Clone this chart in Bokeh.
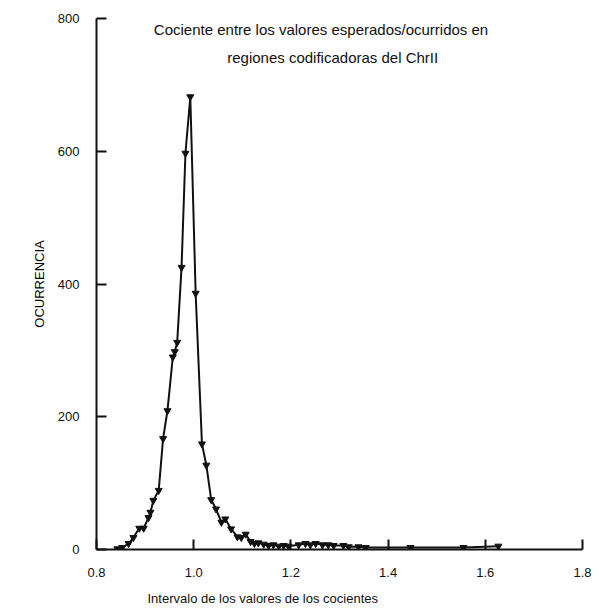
from bokeh.plotting import figure
from bokeh.models import Range1d, Label, FixedTicker, Title
from bokeh.embed import file_html
from bokeh.resources import INLINE

# Quotient interval (x) and occurrence (y)
cociente = [0.843, 0.853, 0.866, 0.876, 0.888, 0.897, 0.907, 0.911, 0.917, 0.928,
            0.937, 0.946, 0.957, 0.961, 0.966, 0.975, 0.983, 0.993,
            1.004, 1.017, 1.026, 1.036, 1.046, 1.057, 1.065, 1.077, 1.090, 1.098,
            1.107, 1.117, 1.125, 1.133, 1.144, 1.154, 1.164, 1.175, 1.185, 1.195,
            1.216, 1.230, 1.240, 1.251, 1.265, 1.277, 1.288, 1.308, 1.319, 1.339,
            1.354, 1.446, 1.555, 1.627]
ocurrencia = [1, 3, 9, 18, 32, 32, 48, 56, 74, 89,
              167, 209, 290, 298, 312, 425, 597, 682,
              386, 159, 127, 75, 61, 41, 46, 31, 19, 18,
              23, 12, 9, 10, 8, 6, 7, 5, 6, 5,
              7, 9, 7, 9, 7, 7, 6, 6, 4, 4,
              3, 3, 3, 5]

x_ticks = [0.8, 1.0, 1.2, 1.4, 1.6, 1.8]
y_ticks = [0, 200, 400, 600, 800]
titulo = ["Cociente entre los valores esperados/ocurridos en",
          "regiones codificadoras del ChrII"]
x_label = "Intervalo de los valores de los cocientes"
y_label = "OCURRENCIA"

FONT = "Liberation Sans"

p = figure(width=599, height=615, output_backend="svg", toolbar_location=None,
           x_range=Range1d(0.8, 1.8), y_range=Range1d(0, 800),
           min_border_left=96, min_border_right=17, min_border_top=18,
           min_border_bottom=66)
p.outline_line_color = None
p.xgrid.visible = False
p.ygrid.visible = False
p.background_fill_color = "white"
p.border_fill_color = "white"

for ax in (p.xaxis[0], p.yaxis[0]):
    ax.major_tick_in = 10
    ax.major_tick_out = 0
    ax.minor_tick_in = 0
    ax.minor_tick_out = 0
    ax.axis_line_width = 2
    ax.major_tick_line_width = 2
    ax.axis_line_color = "#111111"
    ax.major_tick_line_color = "#111111"
    ax.major_label_text_font = FONT
    ax.major_label_text_font_size = "13px"
    ax.major_label_text_color = "#111111"

p.xaxis.ticker = FixedTicker(ticks=x_ticks)
p.yaxis.ticker = FixedTicker(ticks=y_ticks)
p.xaxis.major_label_overrides = {t: f"{t:.1f}" for t in x_ticks}
p.xaxis.major_label_standoff = 18
p.yaxis.major_label_standoff = 17

p.yaxis.axis_label = y_label
p.yaxis.axis_label_text_font = FONT
p.yaxis.axis_label_text_font_size = "13px"
p.yaxis.axis_label_text_font_style = "normal"
p.yaxis.axis_label_text_color = "#000000"
p.yaxis.axis_label_standoff = 8

p.line(cociente, ocurrencia, line_color="#111111", line_width=2)
p.scatter(cociente, ocurrencia, marker="inverted_triangle", size=7,
          fill_color="#111111", line_color="#111111")

p.add_layout(Label(x=1.262, y=783, text=titulo[0], text_align="center",
                   text_baseline="middle", text_font=FONT, text_font_size="15px",
                   text_color="#111111"))
p.add_layout(Label(x=1.286, y=741, text=titulo[1], text_align="center",
                   text_baseline="middle", text_font=FONT, text_font_size="15px",
                   text_color="#111111"))

xt = Title(text=x_label, align="left", offset=51, standoff=18,
           text_font=FONT, text_font_size="13px", text_font_style="normal",
           text_color="#111111")
p.add_layout(xt, "below")

open("out.html", "w").write(file_html(p, INLINE))
